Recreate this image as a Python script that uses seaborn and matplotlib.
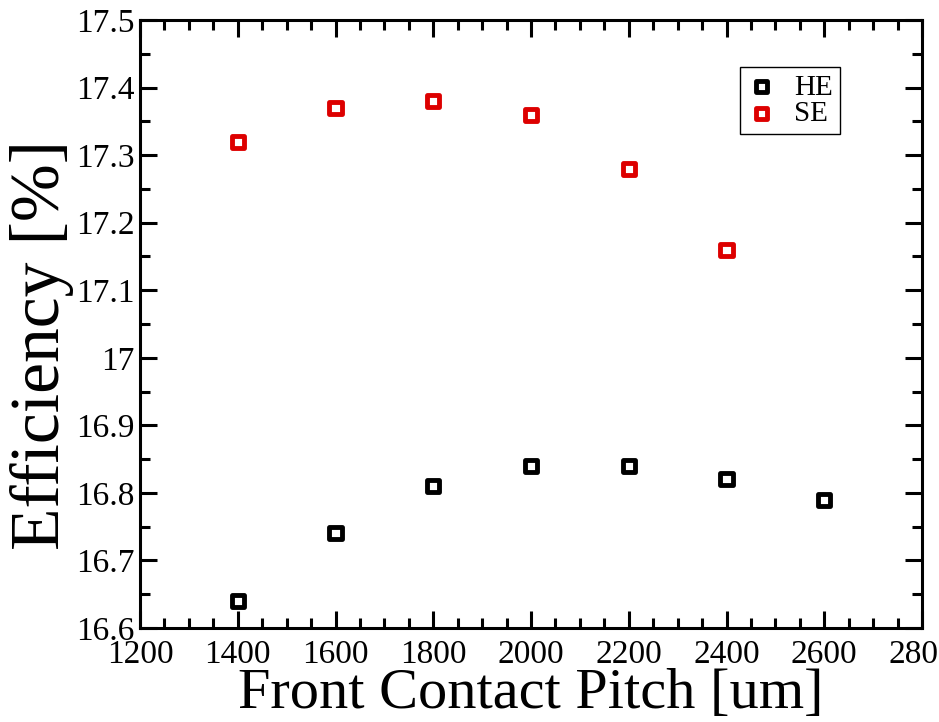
import matplotlib
matplotlib.use("Agg")
import matplotlib.pyplot as plt
import seaborn as sns
import pandas as pd
from matplotlib.ticker import MultipleLocator, AutoMinorLocator

pitch_he = [1400, 1600, 1800, 2000, 2200, 2400, 2600]
eff_he = [16.64, 16.74, 16.81, 16.84, 16.84, 16.82, 16.79]
pitch_se = [1400, 1600, 1800, 2000, 2200, 2400]
eff_se = [17.32, 17.37, 17.38, 17.36, 17.28, 17.16]
series_names = ["HE", "SE"]
series_colors = ["#000000", "#dd0000"]

sns.set_theme(style="ticks")
plt.rcParams["font.family"] = ["Liberation Serif", "DejaVu Serif"]
plt.rcParams["text.color"] = "black"
plt.rcParams["axes.labelcolor"] = "black"
plt.rcParams["xtick.color"] = "black"
plt.rcParams["ytick.color"] = "black"

df = pd.concat([
    pd.DataFrame({"pitch": pitch_he, "eff": eff_he, "series": series_names[0]}),
    pd.DataFrame({"pitch": pitch_se, "eff": eff_se, "series": series_names[1]}),
])

fig = plt.figure(figsize=(9.39, 7.22), dpi=100)
ax = fig.add_axes([0.1491, 0.1302, 0.9819 - 0.1491, 0.9723 - 0.1302])

handles = []
for name, col in zip(series_names, series_colors):
    sub = df[df["series"] == name]
    sns.scatterplot(data=sub, x="pitch", y="eff", marker="s", s=75, ax=ax,
                    color=col, legend=False)
    coll = ax.collections[-1]
    coll.set_facecolor("none")
    coll.set_edgecolor(col)
    coll.set_linewidth(3.5)
    handles.append(coll)

ax.set_xlim(1200, 2800)
ax.set_ylim(16.6, 17.5)
ax.xaxis.set_major_locator(MultipleLocator(200))
ax.xaxis.set_minor_locator(AutoMinorLocator(4))

ytick_vals = [16.6, 16.7, 16.8, 16.9, 17.0, 17.1, 17.2, 17.3, 17.4, 17.5]
ytick_labels = ["16.6", "16.7", "16.8", "16.9", "17", "17.1", "17.2", "17.3", "17.4", "17.5"]
ax.set_yticks(ytick_vals)
ax.set_yticklabels(ytick_labels)
ax.yaxis.set_minor_locator(AutoMinorLocator(2))

for sp in ax.spines.values():
    sp.set_linewidth(2.2)
    sp.set_color("black")
    sp.set_visible(True)

ax.tick_params(which="both", direction="in", top=True, right=True, width=2.2,
               colors="black", labelsize=24)
ax.tick_params(which="major", length=12)
ax.tick_params(which="minor", length=7)
ax.tick_params(axis="x", which="major", pad=8)
ax.tick_params(axis="y", which="major", pad=4)

ax.set_xlabel("Front Contact Pitch [um]", fontsize=42, labelpad=-1, color="black")
ax.set_ylabel("Efficiency [%]", fontsize=50, color="black")
ax.yaxis.set_label_coords(-0.085, 0.465)

leg = ax.legend(handles=handles, labels=series_names, loc="upper right",
                bbox_to_anchor=(0.895, 0.923), borderaxespad=0, fontsize=21,
                fancybox=False, edgecolor="black", framealpha=1,
                handletextpad=0.6, borderpad=0.25, labelspacing=0.0,
                handlelength=1.0, markerscale=0.9)
leg.get_frame().set_linewidth(1.0)

fig.savefig("out.png", dpi=100)
